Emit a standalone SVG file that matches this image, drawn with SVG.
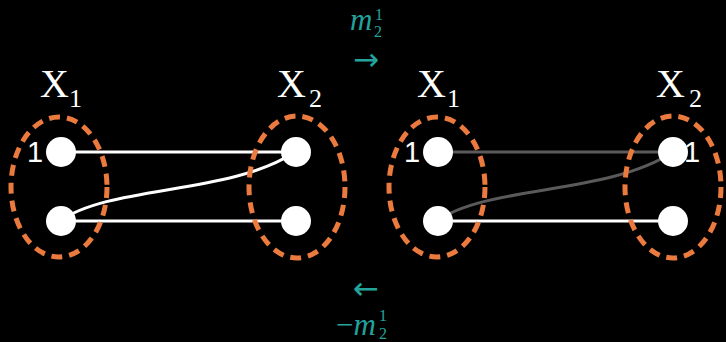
<svg xmlns="http://www.w3.org/2000/svg" width="726" height="342" viewBox="0 0 726 342">
<style>
.bg{fill:#000}
.node{fill:#fff}
.grp{fill:none;stroke:#eb7a3e;stroke-width:5;stroke-dasharray:11 7}
.w{fill:none;stroke:#fff;stroke-width:3}
.g{fill:none;stroke:#5a5a5a;stroke-width:3}
.X{font-family:"Liberation Serif",serif;font-size:40px;fill:#fff}
.sub{font-family:"Liberation Serif",serif;font-size:26px;fill:#fff}
.one{font-family:"Liberation Sans",sans-serif;font-size:29px;fill:#fff}
.m{font-family:"Liberation Serif",serif;font-style:italic;font-size:31px;fill:#22a39c}
.s{font-family:"Liberation Serif",serif;font-size:16px;fill:#22a39c}
.ar{font-family:"DejaVu Sans",sans-serif;font-size:31px;fill:#22a39c}
</style>
<rect class="bg" x="0" y="0" width="726" height="342"/>
<g id="connectors">
<path class="w" d="M60,152 L295,152"/>
<path class="w" d="M60,221 L295,221"/>
<path class="w" d="M60,221 C110,185 230,195 295,152"/>
<path class="g" d="M437,152 L673,152"/>
<path class="w" d="M437,221 L673,221"/>
<path class="g" d="M437,221 C487,185 608,195 673,152"/>
</g>
<g id="groupL1"><ellipse class="grp" cx="59" cy="187" rx="48" ry="70"/><text class="X" x="40" y="97">X</text><text class="sub" x="69" y="107">1</text></g>
<g id="groupL2"><ellipse class="grp" cx="297" cy="187" rx="48" ry="71"/><text class="X" x="277" y="97">X</text><text class="sub" x="309" y="107">2</text></g>
<g id="groupR1"><ellipse class="grp" cx="437" cy="187" rx="48" ry="70"/><text class="X" x="417" y="97">X</text><text class="sub" x="447" y="107">1</text></g>
<g id="groupR2"><ellipse class="grp" cx="673" cy="187" rx="48" ry="71"/><text class="X" x="656" y="97">X</text><text class="sub" x="689" y="107">2</text></g>
<g id="nL1"><circle class="node" cx="61" cy="152" r="15"/><text class="one" x="27" y="162">1</text></g>
<g id="nL2"><circle class="node" cx="61" cy="221" r="15"/></g>
<g id="nR1L"><circle class="node" cx="296" cy="152" r="15"/></g>
<g id="nR2L"><circle class="node" cx="296" cy="221" r="15"/></g>
<g id="nL1R"><circle class="node" cx="438" cy="152" r="15"/><text class="one" x="404" y="162">1</text></g>
<g id="nL2R"><circle class="node" cx="438" cy="221" r="15"/></g>
<g id="nR1R"><circle class="node" cx="673" cy="152" r="15"/><text class="one" x="684" y="162">1</text></g>
<g id="nR2R"><circle class="node" cx="673" cy="221" r="15"/></g>
<g id="labelTop"><text class="m" x="350" y="30">m</text><text class="s" x="375" y="20">1</text><text class="s" x="374" y="37">2</text><text class="ar" x="353" y="70">→</text></g>
<g id="labelBottom"><text class="ar" x="353" y="299">←</text><text class="m" x="336" y="335"><tspan font-style="normal">−</tspan>m</text><text class="s" x="379" y="321">1</text><text class="s" x="379" y="339">2</text></g>
</svg>
